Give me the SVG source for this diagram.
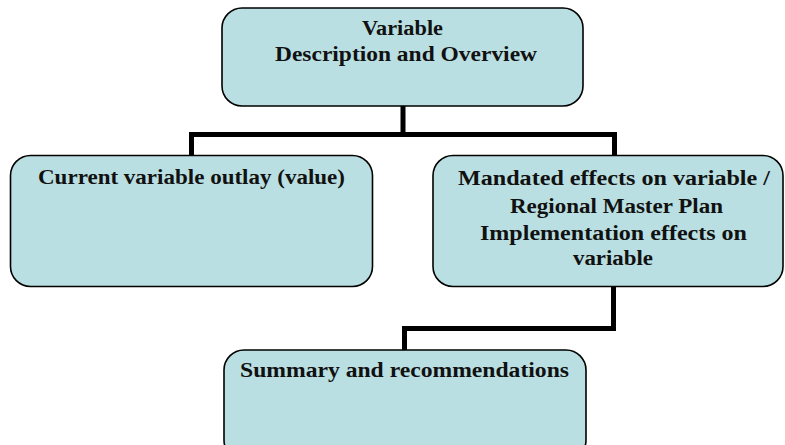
<svg xmlns="http://www.w3.org/2000/svg" width="785" height="445" viewBox="0 0 785 445">
<style>
.box{fill:#b9dfe2;stroke:#000;stroke-width:1.6}
.t{font-family:"Liberation Serif",serif;font-weight:bold;font-size:20px;fill:#111}
.c{fill:none;stroke:#000;stroke-width:5}
</style>
<rect width="785" height="445" fill="#fff"/>
<g id="connectors">
<polyline class="c" points="403,106 403,134.5 191.5,134.5 191.5,155"/>
<polyline class="c" points="403,134.5 614.5,134.5 614.5,155"/>
<polyline class="c" points="613.5,287 613.5,328.5 404.5,328.5 404.5,350"/>
</g>
<g id="top">
<rect class="box" x="222" y="8" width="361" height="98" rx="20"/>
<text class="t" x="362" y="35" textLength="81" lengthAdjust="spacingAndGlyphs">Variable</text>
<text class="t" x="275" y="61" textLength="262" lengthAdjust="spacingAndGlyphs">Description and Overview</text>
</g>
<g id="left">
<rect class="box" x="10.5" y="155.5" width="362" height="131" rx="20"/>
<text class="t" x="38" y="184" textLength="307" lengthAdjust="spacingAndGlyphs">Current variable outlay (value)</text>
</g>
<g id="right">
<rect class="box" x="433" y="155.5" width="350" height="131" rx="20"/>
<text class="t" x="458" y="185" textLength="312" lengthAdjust="spacingAndGlyphs">Mandated effects on variable /</text>
<text class="t" x="510" y="213" textLength="213" lengthAdjust="spacingAndGlyphs">Regional Master Plan</text>
<text class="t" x="480" y="240" textLength="267" lengthAdjust="spacingAndGlyphs">Implementation effects on</text>
<text class="t" x="573" y="265" textLength="80" lengthAdjust="spacingAndGlyphs">variable</text>
</g>
<g id="bottom">
<rect class="box" x="224" y="350" width="362" height="110" rx="20"/>
<text class="t" x="240" y="377" textLength="329" lengthAdjust="spacingAndGlyphs">Summary and recommendations</text>
</g>
</svg>
